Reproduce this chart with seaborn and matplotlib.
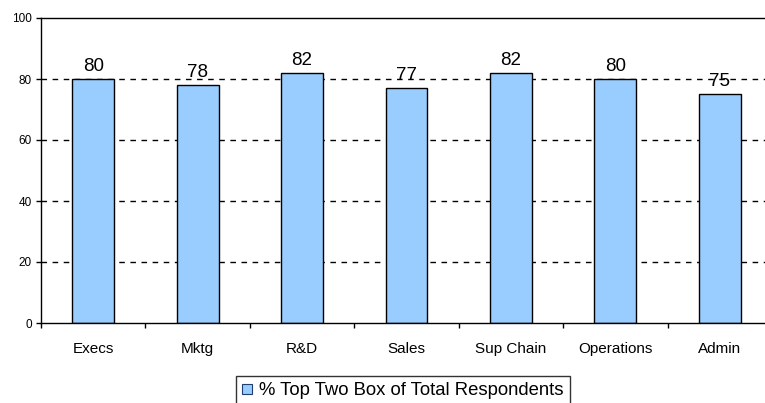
import numpy as np
import pandas as pd
import matplotlib
matplotlib.use("Agg")
import matplotlib.pyplot as plt
from matplotlib.patches import Patch
import seaborn as sns

#chart data
departments = ["Execs", "Mktg", "R&D", "Sales", "Sup Chain", "Operations", "Admin"]
top_two_box = [80, 78, 82, 77, 82, 80, 75]
series_name = "% Top Two Box of Total Respondents"
y_ticks = [0, 20, 40, 60, 80, 100]

df = pd.DataFrame({"department": departments, "value": top_two_box})

sns.set_style("white")
plt.rcParams['font.family'] = ['Liberation Sans', 'DejaVu Sans']
plt.rcParams['text.color'] = 'black'
plt.rcParams['xtick.color'] = 'black'
plt.rcParams['ytick.color'] = 'black'

fig = plt.figure(figsize=(7.65, 4.03), dpi=100)
#plot area runs past the right edge of the picture, as in the reference
ax = fig.add_axes([41/765, 1 - 323/403, (772 - 41)/765, (323 - 18)/403])

bar_color = "#99CCFF"
sns.barplot(
    data = df,
    x = "department",
    y = "value",
    color = bar_color,
    width = 0.4,
    edgecolor = "black",
    linewidth = 1,
    saturation = 1,
    ax = ax
    )

ax.set_xlim(-0.5, len(departments) - 0.5)
ax.set_ylim(0, 100)
ax.set_yticks(y_ticks)
ax.set_axisbelow(True)
for v in y_ticks[1:-1]:
    ax.axhline(v, color="black", lw=1, ls=(0, (4, 4)), zorder=0)

for side in ["left", "bottom", "top"]:
    ax.spines[side].set_visible(True)
    ax.spines[side].set_color("black")
    ax.spines[side].set_linewidth(1)
ax.spines["right"].set_visible(False)

ax.set_xticks(np.arange(-0.5, len(departments)), minor=True)
ax.tick_params(axis="x", which="major", length=0, pad=14, labelsize=11, labelcolor="black")
ax.tick_params(axis="x", which="minor", direction="out", length=3.6, width=1, color="black", bottom=True)
ax.tick_params(axis="y", direction="out", length=3.6, width=1, color="black", left=True, pad=3,
               labelsize=8.5, labelcolor="black")
ax.set_xlabel("")
ax.set_ylabel("")

ax.bar_label(ax.containers[0], fmt="%d", padding=3, fontsize=13.5, color="black")

handle = Patch(facecolor=bar_color, edgecolor="#1f3f6f", linewidth=0.8)
leg = fig.legend(
    [handle], [series_name],
    loc = "upper left",
    bbox_to_anchor = (236/765, 1 - 376/403),
    frameon = True,
    fancybox = False,
    edgecolor = "black",
    fontsize = 13.3,
    handlelength = 0.5,
    handleheight = 0.5,
    handletextpad = 0.4,
    borderpad = 0.35,
    borderaxespad = 0
    )
leg.get_frame().set_linewidth(1)
for t in leg.get_texts():
    t.set_color("black")

fig.savefig("out.png", dpi=100)
